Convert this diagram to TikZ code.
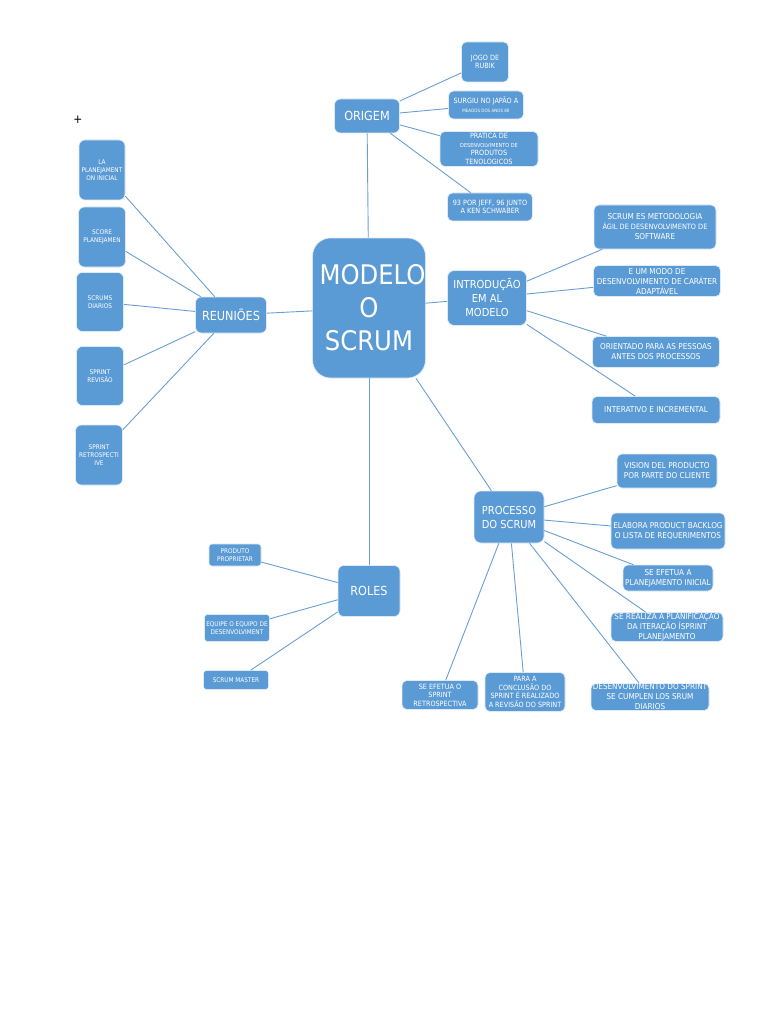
\documentclass[tikz,border=0pt]{standalone}
\usepackage{fontspec}
\setmainfont{DejaVu Sans Condensed}
\usepackage{xcolor}
\usepackage{tikz}
\definecolor{scrumblue}{HTML}{5B9BD5}
\definecolor{scrumline}{HTML}{6A9FD3}

\begin{document}
\begin{tikzpicture}[x=1pt, y=-1pt,
    box/.style={rectangle, rounded corners=5pt, fill=scrumblue, draw=white!80!scrumblue, line width=0.6pt, text=white, align=center, inner sep=0pt},
    hub/.style={box, rounded corners=18pt, font=\fontsize{27}{33}\selectfont},
    topic/.style={box, rounded corners=6pt, font=\fontsize{12.5}{15}\selectfont},
    subtopic/.style={box, rounded corners=7pt, font=\fontsize{11}{14}\selectfont},
    leaf/.style={box, font=\fontsize{8.1}{10}\selectfont},
    smallleaf/.style={box, font=\fontsize{7.2}{8.6}\selectfont},
    tinyleaf/.style={box, rounded corners=6pt, font=\fontsize{6.4}{7.8}\selectfont},
    link/.style={scrumline, line width=0.9pt}]
    \useasboundingbox[fill=white] (0,0) rectangle (768,1024);
    \node[font=\fontsize{12}{12}\selectfont] (plus) at (78,120) {+};

    % centre
    \node[hub, minimum width=110pt, minimum height=140pt] (modelo) at (369,308) {\hspace*{7pt}MODELO\\O\\SCRUM};

    % origem
    \node[topic, minimum width=65pt, minimum height=34pt] (origem) at (367,116) {ORIGEM};
    \node[smallleaf, minimum width=47pt, minimum height=40pt] (rubik) at (485,62) {JOGO DE\\RUBIK};
    \node[smallleaf, minimum width=75pt, minimum height=28pt] (japao) at (486,105) {SURGIU NO JAPÃO A\\{\fontsize{4.5}{5}\selectfont MEADOS DOS ANOS 80}};
    \node[smallleaf, minimum width=98pt, minimum height=35pt] (pratica) at (489,149) {PRATICA DE\\{\fontsize{5.5}{6.5}\selectfont DESENVOLVIMENTO DE}\\PRODUTOS\\TENOLOGICOS};
    \node[smallleaf, minimum width=85pt, minimum height=28pt] (jeff) at (490,207) {93 POR JEFF, 96 JUNTO\\A KEN SCHWABER};

    % introducao
    \node[subtopic, minimum width=79pt, minimum height=55pt] (intro) at (487,298) {INTRODUÇÃO\\EM AL\\MODELO};
    \node[leaf, minimum width=122pt, minimum height=44pt] (metodologia) at (655,227) {SCRUM ES METODOLOGIA\\{\fontsize{7.3}{9}\selectfont ÁGIL DE DESENVOLVIMENTO DE}\\SOFTWARE};
    \node[leaf, minimum width=127pt, minimum height=31pt] (adaptavel) at (657,281) {E UM MODO DE\\DESENVOLVIMENTO DE CARÁTER\\ADAPTÁVEL};
    \node[leaf, minimum width=127pt, minimum height=31pt] (pessoas) at (656,352) {ORIENTADO PARA AS PESSOAS\\ANTES DOS PROCESSOS};
    \node[leaf, minimum width=128pt, minimum height=27pt] (interativo) at (656,410) {INTERATIVO E INCREMENTAL};

    % reunioes
    \node[topic, minimum width=71pt, minimum height=36pt] (reunioes) at (231,315) {REUNIÕES};
    \node[tinyleaf, minimum width=46pt, minimum height=60pt] (inicial) at (102,170) {LA\\PLANEJAMENT\\ON INICIAL};
    \node[tinyleaf, minimum width=47pt, minimum height=60pt] (score) at (102,237) {SCORE\\PLANEJAMEN};
    \node[tinyleaf, minimum width=47pt, minimum height=59pt] (diarios) at (100,302) {SCRUMS\\DIARIOS};
    \node[tinyleaf, minimum width=47pt, minimum height=59pt] (revisao) at (100,376) {SPRINT\\REVISÃO};
    \node[tinyleaf, minimum width=47pt, minimum height=60pt] (retro) at (99,455) {SPRINT\\RETROSPECTI\\IVE};

    % processo
    \node[subtopic, minimum width=70pt, minimum height=52pt] (processo) at (509,517) {PROCESSO\\DO SCRUM};
    \node[leaf, minimum width=100pt, minimum height=34pt] (vision) at (667,471) {VISION DEL PRODUCTO\\POR PARTE DO CLIENTE};
    \node[leaf, minimum width=114pt, minimum height=36pt] (backlog) at (668,531) {ELABORA PRODUCT BACKLOG\\O LISTA DE REQUERIMENTOS};
    \node[leaf, minimum width=90pt, minimum height=26pt] (planinicial) at (668,578) {SE EFETUA A\\PLANEJAMENTO INICIAL};
    \node[leaf, minimum width=112pt, minimum height=29pt] (planificacao) at (667,627) {SE REALIZA A PLANIFICAÇÃO\\DA ITERAÇÃO ÍSPRINT\\PLANEJAMENTO};
    \node[leaf, minimum width=118pt, minimum height=27pt] (desenvolvimento) at (650,697) {DESENVOLVIMENTO DO SPRINT\\SE CUMPLEN LOS SRUM\\DIARIOS};
    \node[smallleaf, minimum width=80pt, minimum height=39pt] (conclusao) at (525,692) {PARA A\\CONCLUSÃO DO\\SPRINT É REALIZADO\\A REVISÃO DO SPRINT};
    \node[smallleaf, minimum width=76pt, minimum height=29pt] (efetuaretro) at (440,695) {SE EFETUA O\\SPRINT\\RETROSPECTIVA};

    % roles
    \node[topic, minimum width=62pt, minimum height=51pt] (roles) at (369,591) {ROLES};
    \node[tinyleaf, rounded corners=3pt, minimum width=52pt, minimum height=22pt] (proprietario) at (235,555) {PRODUTO\\PROPRIETAR};
    \node[tinyleaf, rounded corners=3pt, minimum width=65pt, minimum height=27pt] (equipe) at (237,628) {EQUIPE O EQUIPO DE\\DESENVOLVIMENT};
    \node[tinyleaf, rounded corners=3pt, minimum width=65pt, minimum height=19pt] (master) at (236,680) {SCRUM MASTER};

    \draw[link] (modelo) -- (origem);
    \draw[link] (modelo) -- (intro);
    \draw[link] (modelo) -- (reunioes);
    \draw[link] (modelo) -- (processo);
    \draw[link] (modelo) -- (roles);

    \draw[link] (origem) -- (rubik);
    \draw[link] (origem) -- (japao);
    \draw[link] (origem) -- (pratica);
    \draw[link] (origem) -- (jeff);

    \draw[link] (intro) -- (metodologia);
    \draw[link] (intro) -- (adaptavel);
    \draw[link] (intro) -- (pessoas);
    \draw[link] (intro) -- (interativo);

    \draw[link] (reunioes) -- (inicial);
    \draw[link] (reunioes) -- (score);
    \draw[link] (reunioes) -- (diarios);
    \draw[link] (reunioes) -- (revisao);
    \draw[link] (reunioes) -- (retro);

    \draw[link] (processo) -- (vision);
    \draw[link] (processo) -- (backlog);
    \draw[link] (processo) -- (planinicial);
    \draw[link] (processo) -- (planificacao);
    \draw[link] (processo) -- (desenvolvimento);
    \draw[link] (processo) -- (conclusao);
    \draw[link] (processo) -- (efetuaretro);

    \draw[link] (roles) -- (proprietario);
    \draw[link] (roles) -- (equipe);
    \draw[link] (roles) -- (master);
\end{tikzpicture}
\end{document}
